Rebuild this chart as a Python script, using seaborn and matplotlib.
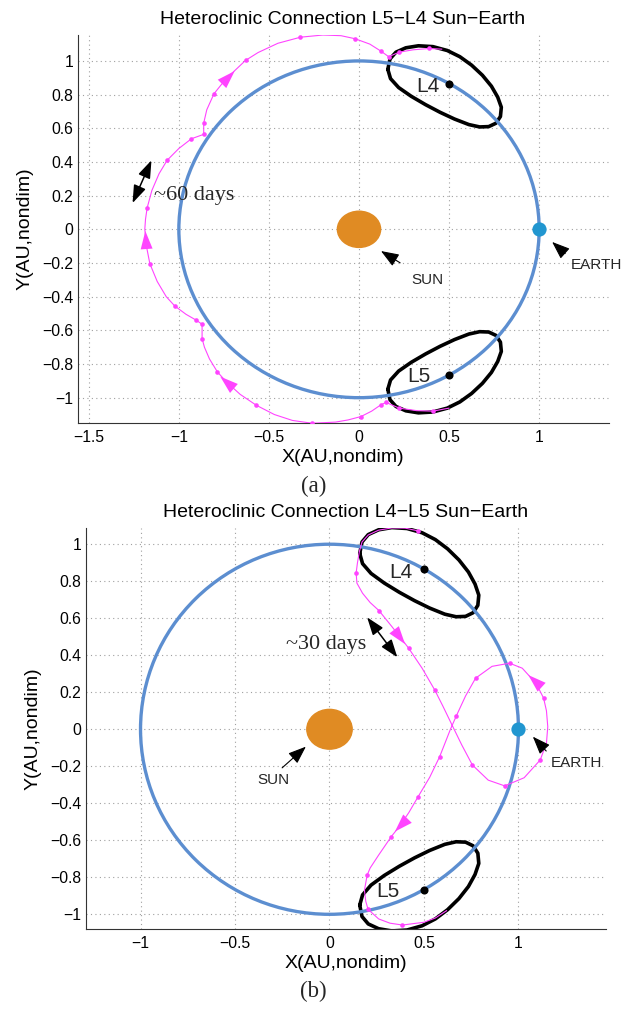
import numpy as np
import pandas as pd
import matplotlib
matplotlib.use("Agg")
import matplotlib.pyplot as plt
from matplotlib.patches import Circle, Ellipse
import seaborn as sns

# ---------------- data ----------------
ORBIT_RADIUS = 1.0
SUN_SIZE = (0.24, 0.215)          # width, height of the Sun disk (data units)
EARTH_XY = (1.0, 0.0)
L4_XY = (0.5, 0.866)
L5_XY = (0.5, -0.866)

l4_orbit_x = [0.160, 0.172, 0.205, 0.260, 0.330, 0.410, 0.490, 0.560, 0.625, 0.685,
              0.735, 0.770, 0.790, 0.785, 0.760, 0.720, 0.670, 0.610, 0.530, 0.450,
              0.370, 0.290, 0.220, 0.175, 0.160]
l4_orbit_y = [0.950, 1.012, 1.052, 1.078, 1.090, 1.085, 1.062, 1.025, 0.975, 0.915,
              0.850, 0.785, 0.725, 0.670, 0.630, 0.610, 0.608, 0.622, 0.655, 0.695,
              0.740, 0.790, 0.842, 0.895, 0.950]
l5_orbit_x = [0.160, 0.172, 0.205, 0.260, 0.330, 0.410, 0.490, 0.560, 0.625, 0.685,
              0.735, 0.770, 0.790, 0.785, 0.760, 0.720, 0.670, 0.610, 0.530, 0.450,
              0.370, 0.290, 0.220, 0.175, 0.160]
l5_orbit_y = [-0.950, -1.012, -1.052, -1.078, -1.090, -1.085, -1.062, -1.025, -0.975, -0.915,
              -0.850, -0.785, -0.725, -0.670, -0.630, -0.610, -0.608, -0.622, -0.655, -0.695,
              -0.740, -0.790, -0.842, -0.895, -0.950]

# (a) heteroclinic trajectory L5 -> L4
traj_a_x = [0.50, 0.41, 0.32, 0.223, 0.150, 0.122, 0.07, 0.011, -0.06, -0.13, -0.26, -0.37,
            -0.47, -0.57, -0.66, -0.736, -0.786, -0.83, -0.858, -0.871, -0.871, -0.903,
            -0.96, -1.023, -1.07, -1.12, -1.161, -1.18, -1.189, -1.185, -1.176, -1.15,
            -1.11, -1.065, -1.00, -0.930, -0.862, -0.862, -0.845, -0.805, -0.76, -0.718,
            -0.63, -0.56, -0.45, -0.325, -0.20, -0.10, -0.022, 0.06, 0.122, 0.165, 0.223,
            0.30, 0.389, 0.46]
traj_a_y = [-1.062, -1.080, -1.077, -1.062, -1.028, -1.042, -1.080, -1.112, -1.132, -1.145,
            -1.152, -1.135, -1.100, -1.045, -0.980, -0.906, -0.847, -0.770, -0.700, -0.649,
            -0.564, -0.540, -0.505, -0.455, -0.400, -0.310, -0.204, -0.100, 0.000, 0.060,
            0.127, 0.230, 0.330, 0.410, 0.480, 0.538, 0.564, 0.631, 0.710, 0.805, 0.865,
            0.914, 1.003, 1.050, 1.105, 1.141, 1.154, 1.150, 1.132, 1.100, 1.058, 1.025,
            1.052, 1.066, 1.074, 1.070]
dots_a_x = [0.408, 0.223, 0.150, 0.122, 0.011, -0.26, -0.57, -0.786, -0.871, -0.871, -0.903,
            -1.023, -1.161, -1.176, -1.065, -0.930, -0.862, -0.862, -0.805, -0.63, -0.325,
            -0.022, 0.122, 0.165, 0.223, 0.389]
dots_a_y = [-1.080, -1.062, -1.028, -1.042, -1.112, -1.152, -1.045, -0.847, -0.649, -0.564,
            -0.540, -0.455, -0.204, 0.127, 0.410, 0.538, 0.564, 0.631, 0.805, 1.003, 1.141,
            1.132, 1.058, 1.025, 1.052, 1.074]
arrow_a_base_x = [-0.700, -1.180, -0.750]
arrow_a_base_y = [-0.940, -0.100, 0.875]
arrow_a_tip_x = [-0.770, -1.186, -0.690]
arrow_a_tip_y = [-0.875, -0.010, 0.940]

# (b) heteroclinic trajectory L4 -> L5
traj_b_x = [0.47, 0.40, 0.33, 0.26, 0.205, 0.172, 0.158, 0.148, 0.141, 0.145, 0.175, 0.215,
            0.262, 0.33, 0.38, 0.419, 0.49, 0.557, 0.60, 0.645, 0.70, 0.756, 0.84, 0.927,
            1.03, 1.115, 1.148, 1.155, 1.148, 1.133, 1.10, 1.068, 1.02, 0.953, 0.86, 0.773,
            0.72, 0.671, 0.64, 0.583, 0.53, 0.468, 0.42, 0.37, 0.327, 0.26, 0.215, 0.199,
            0.185, 0.192, 0.204, 0.26, 0.32, 0.386, 0.50, 0.56, 0.62]
traj_b_y = [1.072, 1.087, 1.088, 1.076, 1.050, 1.012, 0.960, 0.900, 0.845, 0.790, 0.735,
            0.685, 0.641, 0.555, 0.490, 0.438, 0.330, 0.212, 0.125, 0.030, -0.085, -0.193,
            -0.275, -0.306, -0.262, -0.166, -0.075, 0.014, 0.100, 0.168, 0.235, 0.276, 0.330,
            0.357, 0.340, 0.276, 0.180, 0.072, 0.000, -0.148, -0.260, -0.366, -0.450, -0.525,
            -0.580, -0.680, -0.750, -0.789, -0.870, -0.930, -0.973, -1.025, -1.048, -1.058,
            -1.043, -1.020, -0.980]
dots_b_x = [0.47, 0.141, 0.262, 0.419, 0.557, 0.671, 0.773, 0.953, 1.133, 1.115, 0.927,
            0.756, 0.583, 0.468, 0.327, 0.199, 0.204, 0.386]
dots_b_y = [1.072, 0.845, 0.641, 0.438, 0.212, 0.072, 0.276, 0.357, 0.168, -0.166, -0.306,
            -0.193, -0.148, -0.366, -0.580, -0.789, -0.973, -1.058]
arrow_b_base_x = [0.355, 1.096, 0.389]
arrow_b_base_y = [0.520, 0.252, -0.508]
arrow_b_tip_x = [0.400, 1.052, 0.346]
arrow_b_tip_y = [0.460, 0.293, -0.553]

xticks_a = [-1.5, -1.0, -0.5, 0.0, 0.5, 1.0]
xticklabels_a = ["\u22121.5", "\u22121", "\u22120.5", "0", "0.5", "1"]
xticks_b = [-1.0, -0.5, 0.0, 0.5, 1.0]
xticklabels_b = ["\u22121", "\u22120.5", "0", "0.5", "1"]
yticks = [-1.0, -0.8, -0.6, -0.4, -0.2, 0.0, 0.2, 0.4, 0.6, 0.8, 1.0]
yticklabels = ["\u22121", "\u22120.8", "\u22120.6", "\u22120.4", "\u22120.2", "0",
               "0.2", "0.4", "0.6", "0.8", "1"]

# ---------------- style ----------------
sns.set_theme(style="white")
plt.rcParams["font.family"] = ["Liberation Sans", "DejaVu Sans"]
plt.rcParams["axes.unicode_minus"] = True

BLUE = "#5C8ED0"
EARTH_C = "#2196D0"
SUN_C = "#E08B23"
MAG = "#FF44FF"
SERIF = ["Liberation Serif", "DejaVu Serif"]

fig = plt.figure(figsize=(6.34, 10.09), dpi=100)
ax_a = fig.add_axes([0.1224, 0.5805, 0.8374, 0.3848])
ax_b = fig.add_axes([0.1352, 0.0790, 0.8200, 0.3974])


def draw_panel(ax, tx, ty, dx, dy, abx, aby, atx, aty, xlim, ylim, xt, xtl, title):
    # orbits around L4 / L5
    sns.lineplot(x=l4_orbit_x, y=l4_orbit_y, sort=False, estimator=None, color="black",
                 lw=2.6, ax=ax, zorder=2, solid_joinstyle="round")
    sns.lineplot(x=l5_orbit_x, y=l5_orbit_y, sort=False, estimator=None, color="black",
                 lw=2.6, ax=ax, zorder=2, solid_joinstyle="round")
    # Earth orbit
    ax.add_patch(Circle((0, 0), ORBIT_RADIUS, fill=False, ec=BLUE, lw=2.4, zorder=3))
    # trajectory
    sns.lineplot(x=tx, y=ty, sort=False, estimator=None, color=MAG, lw=0.8, ax=ax, zorder=4)
    sns.scatterplot(x=dx, y=dy, color=MAG, s=11, linewidth=0, ax=ax, zorder=5)
    for bx, by, px, py in zip(abx, aby, atx, aty):
        ax.annotate("", xy=(px, py), xytext=(bx, by), zorder=5,
                    arrowprops=dict(arrowstyle="-|>,head_length=1.0,head_width=0.33",
                                    color=MAG, lw=0, shrinkA=0, shrinkB=0,
                                    mutation_scale=13))
    # bodies
    ax.add_patch(Ellipse((0, 0), SUN_SIZE[0], SUN_SIZE[1], color=SUN_C, zorder=6))
    sns.scatterplot(x=[EARTH_XY[0]], y=[EARTH_XY[1]], color=EARTH_C, s=105, linewidth=0,
                    ax=ax, zorder=6)
    sns.scatterplot(x=[L4_XY[0], L5_XY[0]], y=[L4_XY[1], L5_XY[1]], color="black", s=34,
                    linewidth=0, ax=ax, zorder=6)

    ax.set_xlim(*xlim)
    ax.set_ylim(*ylim)
    ax.set_xticks(xt)
    ax.set_xticklabels(xtl)
    ax.set_yticks(yticks)
    ax.set_yticklabels(yticklabels)
    ax.grid(True, linestyle=(0, (1, 3)), color="#a0a0a0", lw=0.8)
    ax.set_axisbelow(True)
    for s in ["top", "right"]:
        ax.spines[s].set_visible(False)
    for s in ["left", "bottom"]:
        ax.spines[s].set_color("#333333")
        ax.spines[s].set_linewidth(0.8)
    ax.tick_params(axis="both", direction="in", length=4, width=0.8, colors="#333333",
                   labelcolor="black", labelsize=11.3)
    ax.tick_params(axis="x", pad=5)
    ax.tick_params(axis="y", pad=3)
    ax.set_xlabel("X(AU,nondim)", fontsize=14, labelpad=3, color="black")
    ax.set_ylabel("Y(AU,nondim)", fontsize=14, labelpad=6, color="black")
    ax.set_title(title, fontsize=14, pad=8, color="black")


draw_panel(ax_a, traj_a_x, traj_a_y, dots_a_x, dots_a_y,
           arrow_a_base_x, arrow_a_base_y, arrow_a_tip_x, arrow_a_tip_y,
           (-1.562, 1.385), (-1.152, 1.154), xticks_a, xticklabels_a,
           "Heteroclinic Connection L5\u2212L4 Sun\u2212Earth")
draw_panel(ax_b, traj_b_x, traj_b_y, dots_b_x, dots_b_y,
           arrow_b_base_x, arrow_b_base_y, arrow_b_tip_x, arrow_b_tip_y,
           (-1.29, 1.461), (-1.081, 1.086), xticks_b, xticklabels_b,
           "Heteroclinic Connection L4\u2212L5 Sun\u2212Earth")

BLACK_HEAD = "-|>,head_length=1.0,head_width=0.38"

# ---- annotations panel (a) ----
ax_a.text(0.445, 0.85, "L4", fontsize=15, ha="right", va="center", zorder=7)
ax_a.text(0.399, -0.877, "L5", fontsize=15, ha="right", va="center", zorder=7)
ax_a.annotate("SUN", xy=(0.122, -0.129), xytext=(0.38, -0.299), fontsize=11,
              ha="center", va="center", zorder=7,
              arrowprops=dict(arrowstyle=BLACK_HEAD, color="black", lw=0.8, shrinkA=9,
                              shrinkB=0, mutation_scale=11))
ax_a.annotate("EARTH", xy=(1.072, -0.075), xytext=(1.174, -0.214), fontsize=11,
              ha="left", va="center", zorder=7,
              arrowprops=dict(arrowstyle=BLACK_HEAD, color="black", lw=0.8, shrinkA=2,
                              shrinkB=0, mutation_scale=11, relpos=(0.0, 1.0)))
ax_a.annotate("", xy=(-1.257, 0.156), xytext=(-1.152, 0.41), zorder=7,
              arrowprops=dict(arrowstyle="<|-|>,head_length=0.9,head_width=0.32",
                              color="black", lw=1.1, shrinkA=0, shrinkB=0,
                              mutation_scale=12))
ax_a.text(-1.137, 0.20, "~60 days", fontsize=16, family=SERIF, ha="left", va="center",
          zorder=7)

# ---- annotations panel (b) ----
ax_b.text(0.437, 0.847, "L4", fontsize=15, ha="right", va="center", zorder=7)
ax_b.text(0.372, -0.878, "L5", fontsize=15, ha="right", va="center", zorder=7)
ax_b.annotate("SUN", xy=(-0.125, -0.094), xytext=(-0.298, -0.274), fontsize=11,
              ha="center", va="center", zorder=7,
              arrowprops=dict(arrowstyle=BLACK_HEAD, color="black", lw=0.8, shrinkA=2,
                              shrinkB=0, mutation_scale=11, relpos=(0.6, 1.0)))
ax_b.annotate("EARTH", xy=(1.076, -0.04), xytext=(1.173, -0.184), fontsize=11,
              ha="left", va="center", zorder=7,
              arrowprops=dict(arrowstyle=BLACK_HEAD, color="black", lw=0.8, shrinkA=2,
                              shrinkB=0, mutation_scale=11, relpos=(0.0, 1.0)))
ax_b.annotate("", xy=(0.199, 0.605), xytext=(0.359, 0.389), zorder=7,
              arrowprops=dict(arrowstyle="<|-|>,head_length=0.9,head_width=0.32",
                              color="black", lw=1.1, shrinkA=0, shrinkB=0,
                              mutation_scale=12))
ax_b.text(-0.231, 0.456, "~30 days", fontsize=16, family=SERIF, ha="left", va="center",
          zorder=7)

# captions
fig.text(0.495, 1 - 486 / 1009, "(a)", fontsize=16.5, family=SERIF, ha="center", va="center")
fig.text(0.494, 1 - 991 / 1009, "(b)", fontsize=16.5, family=SERIF, ha="center", va="center")

fig.savefig("out.png", dpi=100)
